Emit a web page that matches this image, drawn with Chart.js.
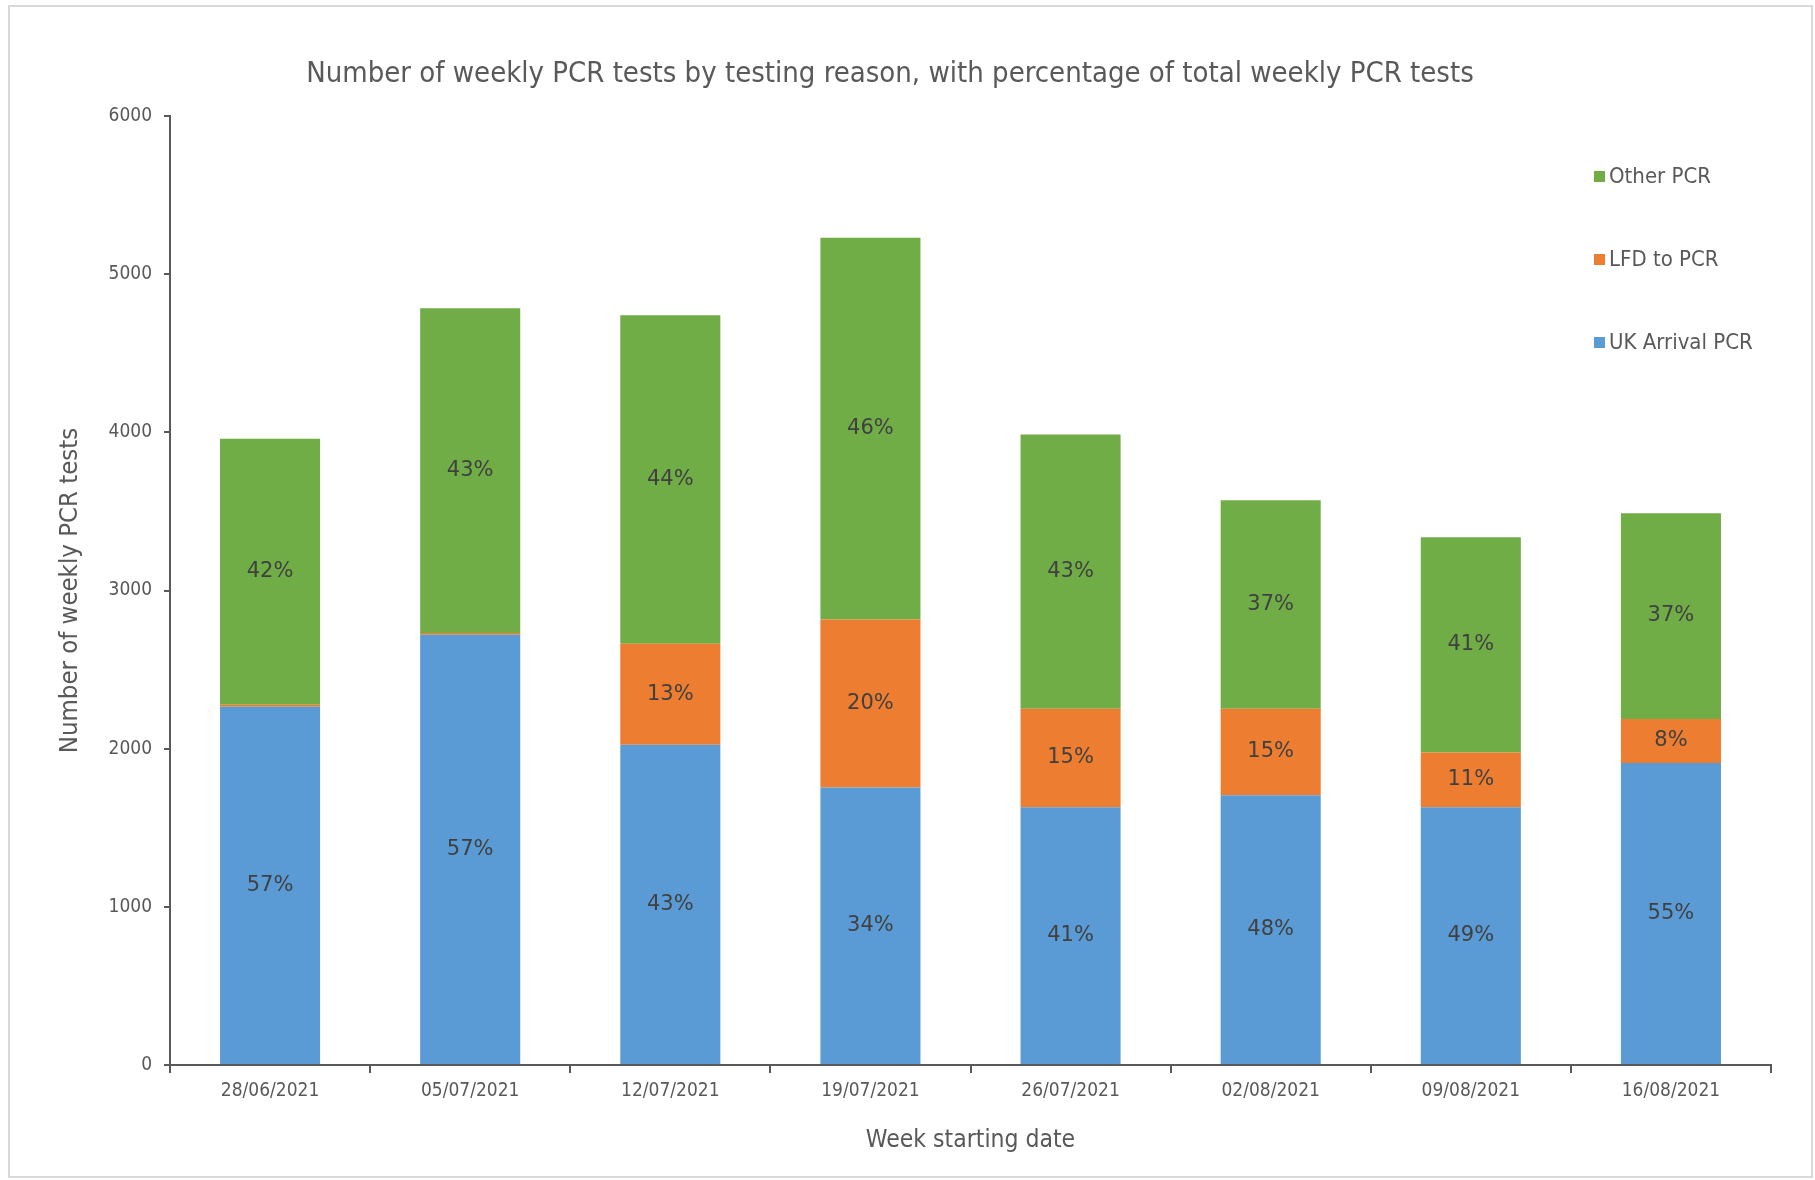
<!DOCTYPE html>
<html>
<head>
<meta charset="utf-8">
<title>Weekly PCR tests</title>
<script src="https://cdn.jsdelivr.net/npm/chart.js@4/dist/chart.umd.min.js"></script>
<style>
  html, body { margin: 0; padding: 0; background: #fff; }
  canvas { display: block; }
</style>
</head>
<body>
<canvas id="pcrChart" width="1815" height="1180"></canvas>
<script>
// Week starting dates
const weeks = ['28/06/2021', '05/07/2021', '12/07/2021', '19/07/2021', '26/07/2021', '02/08/2021', '09/08/2021', '16/08/2021'];

// Weekly test counts per reason
const ukArrival = [2265, 2720, 2025, 1755, 1630, 1705, 1630, 1910];
const lfdToPcr  = [12, 12, 638, 1062, 623, 548, 345, 278];
const otherPcr  = [1683, 2052, 2077, 2414, 1734, 1317, 1361, 1301];

// Percentage labels shown on each segment
const ukArrivalPct = ['57%', '57%', '43%', '34%', '41%', '48%', '49%', '55%'];
const lfdToPcrPct  = ['', '', '13%', '20%', '15%', '15%', '11%', '8%'];
const otherPcrPct  = ['42%', '43%', '44%', '46%', '43%', '37%', '41%', '37%'];

const yTicks = [0, 1000, 2000, 3000, 4000, 5000, 6000];

const chartTitle = 'Number of weekly PCR tests by testing reason, with percentage of total weekly PCR tests';
const condensed = "'DejaVu Sans Condensed', 'DejaVu Sans', sans-serif";
const textGrey = '#595959';

// Percentages drawn in the middle of every segment
const segmentLabels = {
    id: 'segmentLabels',
    afterDatasetsDraw(chart) {
        const ctx = chart.ctx;
        ctx.save();
        ctx.font = "21px 'DejaVu Sans', sans-serif";
        ctx.fillStyle = '#404040';
        ctx.textAlign = 'center';
        ctx.textBaseline = 'middle';
        chart.data.datasets.forEach((ds, di) => {
            const meta = chart.getDatasetMeta(di);
            meta.data.forEach((bar, i) => {
                const txt = ds.pctLabels[i];
                if (!txt) return;
                const { x, y, base } = bar.getProps(['x', 'y', 'base'], true);
                ctx.fillText(txt, x, (y + base) / 2);
            });
        });
        ctx.restore();
    }
};

// Title, frame and legend placed like the original layout
const decorations = {
    id: 'decorations',
    afterDraw(chart) {
        const ctx = chart.ctx;
        const area = chart.chartArea;
        ctx.save();

        // outer frame
        ctx.strokeStyle = '#d9d9d9';
        ctx.lineWidth = 2;
        ctx.strokeRect(9, 6, 1803, 1171);

        // title
        ctx.font = '29px ' + condensed;
        ctx.fillStyle = textGrey;
        ctx.textAlign = 'center';
        ctx.textBaseline = 'middle';
        ctx.fillText(chartTitle, 890, 74);

        // legend, last dataset on top
        ctx.font = '22px ' + condensed;
        ctx.textAlign = 'left';
        const items = chart.data.datasets.slice().reverse();
        items.forEach((ds, i) => {
            const lx = area.right - 177;
            const ly = area.top + 61 + i * 83;
            ctx.fillStyle = ds.backgroundColor;
            ctx.fillRect(lx, ly - 6, 11, 11);
            ctx.fillStyle = textGrey;
            ctx.fillText(ds.label, lx + 15, ly);
        });
        ctx.restore();
    }
};

new Chart(document.getElementById('pcrChart').getContext('2d'), {
    type: 'bar',
    data: {
        labels: weeks,
        datasets: [
            { label: 'UK Arrival PCR', data: ukArrival, pctLabels: ukArrivalPct, backgroundColor: '#5B9BD5' },
            { label: 'LFD to PCR', data: lfdToPcr, pctLabels: lfdToPcrPct, backgroundColor: '#ED7D31' },
            { label: 'Other PCR', data: otherPcr, pctLabels: otherPcrPct, backgroundColor: '#70AD47' }
        ]
    },
    options: {
        responsive: false,
        animation: false,
        devicePixelRatio: 1,
        layout: { padding: { left: 55, right: 44, top: 116, bottom: 25 } },
        datasets: {
            bar: { barPercentage: 0.5, categoryPercentage: 1.0, borderWidth: 0 }
        },
        plugins: {
            legend: { display: false },
            title: { display: false },
            tooltip: { enabled: false }
        },
        scales: {
            x: {
                stacked: true,
                afterFit: (scale) => { scale.height = 90; },
                border: { display: true, color: textGrey, width: 2 },
                grid: { display: true, offset: true, drawOnChartArea: false, drawTicks: true, tickLength: 8, color: textGrey, lineWidth: 2 },
                ticks: { color: textGrey, padding: 7, maxRotation: 0, font: { family: condensed, size: 19 } },
                title: {
                    display: true,
                    text: 'Week starting date',
                    color: textGrey,
                    padding: 0,
                    font: { family: condensed, size: 24.5 }
                }
            },
            y: {
                stacked: true,
                min: 0,
                max: 6000,
                afterFit: (scale) => { scale.width = 115; },
                afterBuildTicks: (scale) => { scale.ticks = yTicks.map(v => ({ value: v })); },
                border: { display: true, color: textGrey, width: 2 },
                grid: { display: true, drawOnChartArea: false, drawTicks: true, tickLength: 6, color: textGrey, lineWidth: 2 },
                ticks: { color: textGrey, padding: 12, font: { family: condensed, size: 19 }, callback: (v) => String(v) },
                title: {
                    display: true,
                    text: 'Number of weekly PCR tests',
                    color: textGrey,
                    padding: 0,
                    font: { family: condensed, size: 25.5 }
                }
            }
        }
    },
    plugins: [segmentLabels, decorations]
});
</script>
</body>
</html>
